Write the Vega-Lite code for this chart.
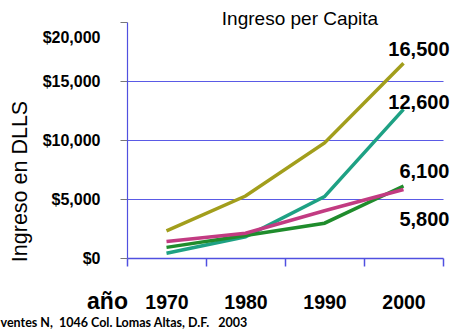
{
  "$schema": "https://vega.github.io/schema/vega-lite/v6.json",
  "width": 316,
  "height": 236,
  "autosize": "none",
  "padding": {"left": 127, "top": 22, "right": 10, "bottom": 71},
  "background": "white",
  "title": {"text": "Ingreso per Capita", "font": "Liberation Sans", "fontSize": 19, "fontWeight": "normal", "color": "black", "anchor": "middle", "frame": "group", "dx": 15, "offset": -7},
  "data": {
    "values": [
      {"year": "1970", "series": "A", "value": 2300},
      {"year": "1980", "series": "A", "value": 5250},
      {"year": "1990", "series": "A", "value": 9750},
      {"year": "2000", "series": "A", "value": 16500},
      {"year": "1970", "series": "B", "value": 400},
      {"year": "1980", "series": "B", "value": 1800},
      {"year": "1990", "series": "B", "value": 5200},
      {"year": "2000", "series": "B", "value": 12600},
      {"year": "1970", "series": "C", "value": 900},
      {"year": "1980", "series": "C", "value": 1900},
      {"year": "1990", "series": "C", "value": 2950},
      {"year": "2000", "series": "C", "value": 6100},
      {"year": "1970", "series": "D", "value": 1400},
      {"year": "1980", "series": "D", "value": 2100},
      {"year": "1990", "series": "D", "value": 4000},
      {"year": "2000", "series": "D", "value": 5800}
    ]
  },
  "resolve": {"axis": {"x": "independent"}},
  "layer": [
    {
      "mark": {"type": "line", "strokeWidth": 3.5},
      "encoding": {
        "x": {"field": "year", "type": "ordinal", "bandPosition": 0.5,
          "scale": {"type": "band", "paddingInner": 0, "paddingOuter": 0},
          "axis": {"orient": "bottom", "title": "año", "titleFont": "Liberation Sans", "titleFontSize": 23, "titleFontWeight": "bold", "titleColor": "black", "titleX": -20, "titleY": 50, "titleBaseline": "alphabetic", "titleAlign": "center",
            "labelFont": "Liberation Sans", "labelFontSize": 19.5, "labelFontWeight": "bold", "labelColor": "black", "labelPadding": 27, "labelAngle": 0,
            "tickBand": "extent", "tickSize": 8, "tickColor": "#5050e0", "domainColor": "#5050e0", "domainWidth": 1.5, "tickWidth": 1.5, "grid": false}},
        "y": {"field": "value", "type": "quantitative",
          "scale": {"domain": [0, 20000], "nice": false},
          "axis": {"values": [0, 5000, 10000, 15000, 20000], "format": "$,.0f", "title": "Ingreso en DLLS",
            "titleFont": "Liberation Sans", "titleFontSize": 21.5, "titleFontWeight": "normal", "titleColor": "black", "titleX": -107, "titleY": 159, "titleBaseline": "middle",
            "labelFont": "Liberation Sans", "labelFontSize": 16, "labelFontWeight": "bold", "labelColor": "black", "labelPadding": 20,
            "labelOffset": {"condition": {"test": "datum.value === 20000", "value": 15}, "value": 0},
            "tickSize": 7, "tickColor": "#777777", "domainColor": "#5050e0", "domainWidth": 1.2,
            "grid": true, "gridColor": "#5a5ae6", "gridWidth": 1.2,
            "gridOpacity": {"condition": {"test": "datum.value === 20000 || datum.value === 0", "value": 0}, "value": 1}}},
        "color": {"field": "series", "type": "nominal", "legend": null,
          "scale": {"domain": ["A", "B", "C", "D"], "range": ["#a29e1c", "#1ea184", "#1f8c2c", "#c23b82"]}},
        "order": {"field": "series"}
      }
    },
    {
      "transform": [{"filter": "datum.year === '2000' && datum.series === 'A'"}],
      "mark": {"type": "text", "align": "right", "baseline": "middle", "dx": 46, "dy": -13, "font": "Liberation Sans", "fontSize": 20, "fontWeight": "bold", "color": "black"},
      "encoding": {
        "x": {"field": "year", "type": "ordinal", "bandPosition": 0.5,
          "axis": {"orient": "top", "title": "ventes N,\u00a0 1046 Col. Lomas Altas, D.F.\u00a0\u00a0 2003", "titleFont": "Lato", "titleFontSize": 12.5, "titleFontWeight": "bold", "titleColor": "black", "titleAlign": "left", "titleAnchor": "start", "titleX": -127, "titleY": 304, "titleBaseline": "alphabetic", "labels": false, "ticks": false, "domain": false, "grid": false}},
        "y": {"field": "value", "type": "quantitative"},
        "text": {"field": "value", "type": "quantitative", "format": ",.0f"}
      }
    },
    {
      "transform": [{"filter": "datum.year === '2000' && datum.series === 'B'"}],
      "mark": {"type": "text", "align": "right", "baseline": "middle", "dx": 46, "dy": -6, "font": "Liberation Sans", "fontSize": 20, "fontWeight": "bold", "color": "black"},
      "encoding": {
        "x": {"field": "year", "type": "ordinal", "bandPosition": 0.5, "axis": null},
        "y": {"field": "value", "type": "quantitative"},
        "text": {"field": "value", "type": "quantitative", "format": ",.0f"}
      }
    },
    {
      "transform": [{"filter": "datum.year === '2000' && datum.series === 'C'"}],
      "mark": {"type": "text", "align": "right", "baseline": "middle", "dx": 46, "dy": -14, "font": "Liberation Sans", "fontSize": 20, "fontWeight": "bold", "color": "black"},
      "encoding": {
        "x": {"field": "year", "type": "ordinal", "bandPosition": 0.5, "axis": null},
        "y": {"field": "value", "type": "quantitative"},
        "text": {"field": "value", "type": "quantitative", "format": ",.0f"}
      }
    },
    {
      "transform": [{"filter": "datum.year === '2000' && datum.series === 'D'"}],
      "mark": {"type": "text", "align": "right", "baseline": "middle", "dx": 46, "dy": 30, "font": "Liberation Sans", "fontSize": 20, "fontWeight": "bold", "color": "black"},
      "encoding": {
        "x": {"field": "year", "type": "ordinal", "bandPosition": 0.5, "axis": null},
        "y": {"field": "value", "type": "quantitative"},
        "text": {"field": "value", "type": "quantitative", "format": ",.0f"}
      }
    }
  ],
  "config": {"view": {"stroke": null}}
}
